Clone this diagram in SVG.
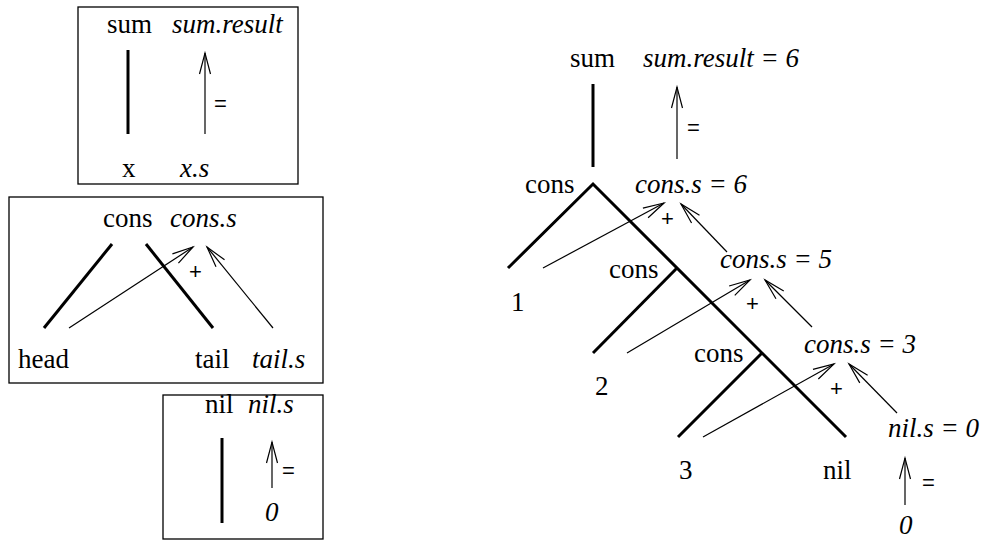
<svg xmlns="http://www.w3.org/2000/svg" width="985" height="541" viewBox="0 0 985 541">
<style>
.t{font-family:"Liberation Serif","Times New Roman",serif;font-size:27px;fill:#000}
.i{font-style:italic}
.op{font-family:"Liberation Sans",Arial,sans-serif;font-size:22px;fill:#000}
.box{fill:#fff;stroke:#000;stroke-width:1.3}
.tree{stroke:#000;stroke-width:3;fill:none}
.dep{stroke:#000;stroke-width:1.2;fill:none;marker-end:url(#ah)}
</style>
<defs>
<marker id="ah" markerUnits="userSpaceOnUse" viewBox="-22 -7 24 14" refX="0" refY="0" markerWidth="24" markerHeight="14" orient="auto" overflow="visible">
<path d="M-21,-5.5 L0,0 L-21,5.5" fill="none" stroke="#000" stroke-width="1.2"/>
</marker>
</defs>
<rect width="985" height="541" fill="#fff"/>

<!-- Legend box 1: sum -->
<g id="rule-sum">
<rect class="box" x="78" y="7" width="220" height="177"/>
<text class="t" x="107" y="33">sum</text>
<text class="t i" x="172" y="33">sum.result</text>
<line class="tree" x1="128" y1="50" x2="128" y2="134"/>
<line class="dep" x1="205" y1="134" x2="205" y2="53"/>
<text class="op" x="214" y="111">=</text>
<text class="t" x="122" y="177">x</text>
<text class="t i" x="180" y="177">x.s</text>
</g>

<!-- Legend box 2: cons -->
<g id="rule-cons">
<rect class="box" x="9" y="197" width="314" height="186"/>
<text class="t" x="103" y="227">cons</text>
<text class="t i" x="170" y="227">cons.s</text>
<line class="tree" x1="112" y1="244" x2="44" y2="328"/>
<line class="tree" x1="146" y1="244" x2="213" y2="328"/>
<line class="dep" x1="69" y1="328" x2="193" y2="247"/>
<line class="dep" x1="273" y1="328" x2="207" y2="247"/>
<text class="op" x="189" y="279">+</text>
<text class="t" x="18" y="368">head</text>
<text class="t" x="195" y="368">tail</text>
<text class="t i" x="252" y="368">tail.s</text>
</g>

<!-- Legend box 3: nil -->
<g id="rule-nil">
<rect class="box" x="163" y="395" width="160" height="144"/>
<text class="t" x="205" y="413">nil</text>
<text class="t i" x="248" y="413">nil.s</text>
<line class="tree" x1="222" y1="438" x2="222" y2="523"/>
<line class="dep" x1="272" y1="488" x2="272" y2="442"/>
<text class="op" x="282" y="478">=</text>
<text class="t i" x="265" y="521">0</text>
</g>

<!-- Right tree connectors -->
<g id="connectors">
<line class="tree" x1="593" y1="84" x2="593" y2="167"/>
<polyline class="tree" points="508,268 593,184 846,437"/>
<line class="tree" x1="677" y1="268" x2="593" y2="353"/>
<line class="tree" x1="762" y1="353" x2="678" y2="437"/>
<line class="dep" x1="677" y1="159" x2="677" y2="87"/>
<line class="dep" x1="543" y1="268" x2="664" y2="203"/>
<line class="dep" x1="727" y1="252" x2="681" y2="204"/>
<line class="dep" x1="627" y1="353" x2="750" y2="280"/>
<line class="dep" x1="812" y1="327" x2="765" y2="280"/>
<line class="dep" x1="703" y1="437" x2="834" y2="364"/>
<line class="dep" x1="897" y1="413" x2="849" y2="364"/>
<line class="dep" x1="905" y1="505" x2="905" y2="458"/>
</g>

<g id="ops">
<text class="op" x="687" y="135">=</text>
<text class="op" x="661" y="226">+</text>
<text class="op" x="746" y="311">+</text>
<text class="op" x="830" y="396">+</text>
<text class="op" x="922" y="490">=</text>
</g>

<g id="n-sum"><text class="t" x="570" y="67">sum</text></g>
<g id="n-sum-result"><text class="t i" x="643" y="67">sum.result = 6</text></g>
<g id="n-cons1"><text class="t" x="525" y="193">cons</text></g>
<g id="n-cons1-s"><text class="t i" x="635" y="193">cons.s = 6</text></g>
<g id="n-1"><text class="t" x="511" y="311">1</text></g>
<g id="n-cons2"><text class="t" x="609" y="278">cons</text></g>
<g id="n-cons2-s"><text class="t i" x="720" y="268">cons.s = 5</text></g>
<g id="n-2"><text class="t" x="595" y="395">2</text></g>
<g id="n-cons3"><text class="t" x="694" y="362">cons</text></g>
<g id="n-cons3-s"><text class="t i" x="804" y="353">cons.s = 3</text></g>
<g id="n-3"><text class="t" x="679" y="479">3</text></g>
<g id="n-nil"><text class="t" x="823" y="479">nil</text></g>
<g id="n-nil-s"><text class="t i" x="888" y="437">nil.s = 0</text></g>
<g id="n-0"><text class="t i" x="899" y="534">0</text></g>
</svg>
